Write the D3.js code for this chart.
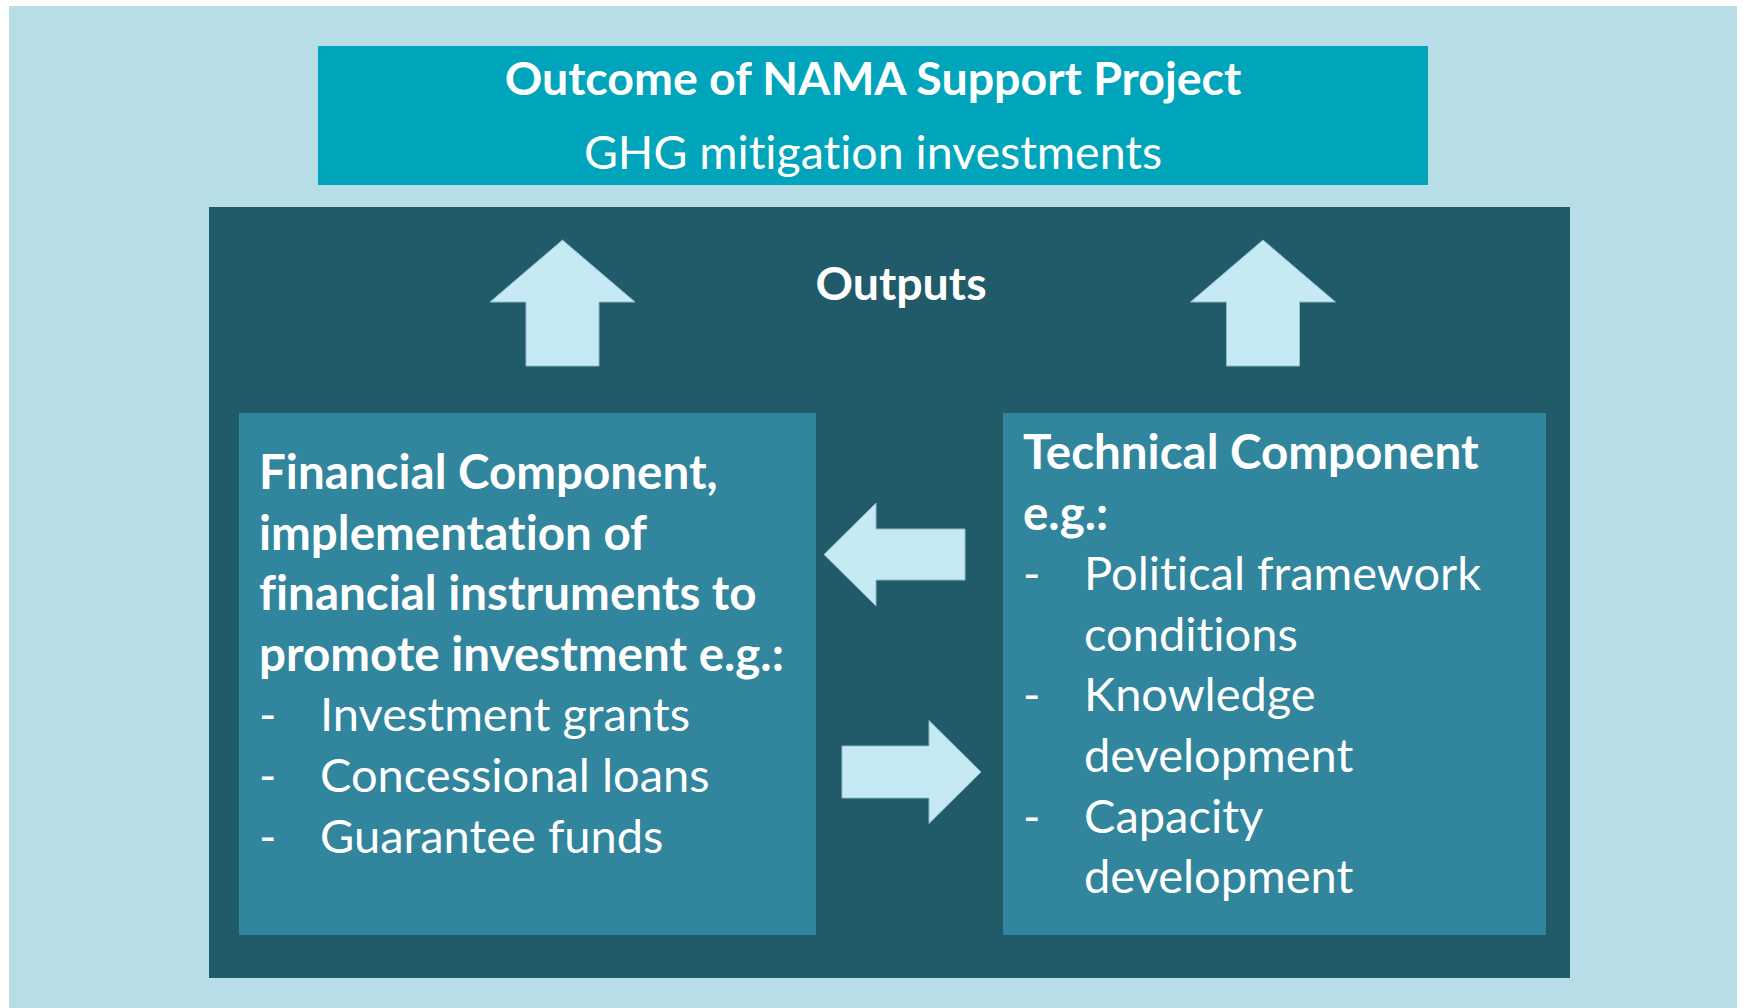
<!DOCTYPE html>
<html>
<head>
<meta charset="utf-8">
<script src="https://cdn.jsdelivr.net/npm/d3@7"></script>
<style>
  body { margin: 0; background: #ffffff; }
  svg { display: block; }
  text { font-family: Lato, "Open Sans", sans-serif; fill: #ffffff; font-variant-ligatures: none; }
</style>
</head>
<body>
<div id="vis"></div>
<script>
// dimensions of the frame
const FRAME_WIDTH = 1743;
const FRAME_HEIGHT = 1008;

// texts of the diagram
const TITLE = "Outcome of NAMA Support Project";
const SUBTITLE = "GHG mitigation investments";
const OUTPUTS = "Outputs";
const FIN_HEAD = ["Financial Component,", "implementation of",
                  "financial instruments to", "promote investment e.g.:"];
const FIN_ITEMS = [["Investment grants"], ["Concessional loans"], ["Guarantee funds"]];
const TECH_HEAD = ["Technical Component", "e.g.:"];
const TECH_ITEMS = [["Political framework", "conditions"],
                    ["Knowledge", "development"],
                    ["Capacity", "development"]];

// colours
const COL_BG = "#b7dde7";
const COL_TOP = "#01a5bb";
const COL_DARK = "#215a69";
const COL_BOX = "#31859c";
const COL_ARROW = "#c5eaf4";

// layout of the boxes
const BG = {x: 9, y: 6, w: 1728, h: 1002};
const TOP = {x: 318, y: 46, w: 1110, h: 139};
const DARK = {x: 209, y: 207, w: 1361, h: 771};
const LEFT = {x: 239, y: 413, w: 577, h: 522};
const RIGHT = {x: 1003, y: 413, w: 543, h: 522};

const LINE_H = 60.6;
const FONT_HEAD = 47.5;
const FONT_BODY = 47;
const FONT_TOP = 46.5;

const FRAME = d3.select("#vis")
                .append("svg")
                .attr("width", FRAME_WIDTH)
                .attr("height", FRAME_HEIGHT);

// draws the boxes
FRAME.selectAll("rect.box")
     .data([[BG, COL_BG], [TOP, COL_TOP], [DARK, COL_DARK], [LEFT, COL_BOX], [RIGHT, COL_BOX]])
     .enter()
     .append("rect")
       .attr("class", "box")
       .attr("x", (d) => d[0].x)
       .attr("y", (d) => d[0].y)
       .attr("width", (d) => d[0].w)
       .attr("height", (d) => d[0].h)
       .attr("fill", (d) => d[1]);

// builds an arrow polygon pointing in direction dir ("up", "left", "right")
// from its tip, with total length, shaft width and head size
function arrowPoints(tipX, tipY, dir, len, shaftW, headW, headL) {
  // points in a frame where the arrow points along +u, v is across
  const pts = [[0, 0], [-headL, headW / 2], [-headL, shaftW / 2], [-len, shaftW / 2],
               [-len, -shaftW / 2], [-headL, -shaftW / 2], [-headL, -headW / 2]];
  return pts.map(([u, v]) => {
    if (dir === "up") return [tipX + v, tipY - u];
    if (dir === "left") return [tipX - u, tipY + v];
    return [tipX + u, tipY + v];
  });
}

const ARROWS = [
  arrowPoints(562.5, 240, "up", 126, 73, 145, 62),
  arrowPoints(1263, 240, "up", 126, 73, 145, 62),
  arrowPoints(824, 554.5, "left", 141, 51, 103, 52),
  arrowPoints(981, 772, "right", 139, 52, 103, 52)
];

FRAME.selectAll("path.arrow")
     .data(ARROWS)
     .enter()
     .append("path")
       .attr("class", "arrow")
       .attr("d", (d) => d3.line()(d) + "Z")
       .attr("fill", COL_ARROW)
       .attr("stroke", "#8fbccb")
       .attr("stroke-width", 1);

// top box texts
FRAME.append("text")
     .attr("x", TOP.x + TOP.w / 2)
     .attr("y", 95)
     .attr("text-anchor", "middle")
     .attr("font-weight", "bold")
     .attr("font-size", FONT_TOP)
     .text(TITLE);

FRAME.append("text")
     .attr("x", TOP.x + TOP.w / 2)
     .attr("y", 169)
     .attr("text-anchor", "middle")
     .attr("font-size", FONT_TOP)
     .text(SUBTITLE);

FRAME.append("text")
     .attr("x", 901)
     .attr("y", 300)
     .attr("text-anchor", "middle")
     .attr("font-weight", "bold")
     .attr("font-size", FONT_TOP)
     .text(OUTPUTS);

// writes a bold heading and a dashed list into a box
function writeBlock(box, head, items, firstBase) {
  const x0 = box.x + 20;
  let y = firstBase;
  head.forEach((line) => {
    FRAME.append("text")
         .attr("x", x0).attr("y", y)
         .attr("font-weight", "bold")
         .attr("font-size", FONT_HEAD)
         .text(line);
    y += LINE_H;
  });
  items.forEach((item) => {
    FRAME.append("text")
         .attr("x", x0).attr("y", y)
         .attr("font-size", FONT_BODY)
         .text("-");
    item.forEach((line) => {
      FRAME.append("text")
           .attr("x", x0 + 61).attr("y", y)
           .attr("font-size", FONT_BODY)
           .text(line);
      y += LINE_H;
    });
  });
}

writeBlock(LEFT, FIN_HEAD, FIN_ITEMS, 489);
writeBlock(RIGHT, TECH_HEAD, TECH_ITEMS, 469);
</script>
</body>
</html>
